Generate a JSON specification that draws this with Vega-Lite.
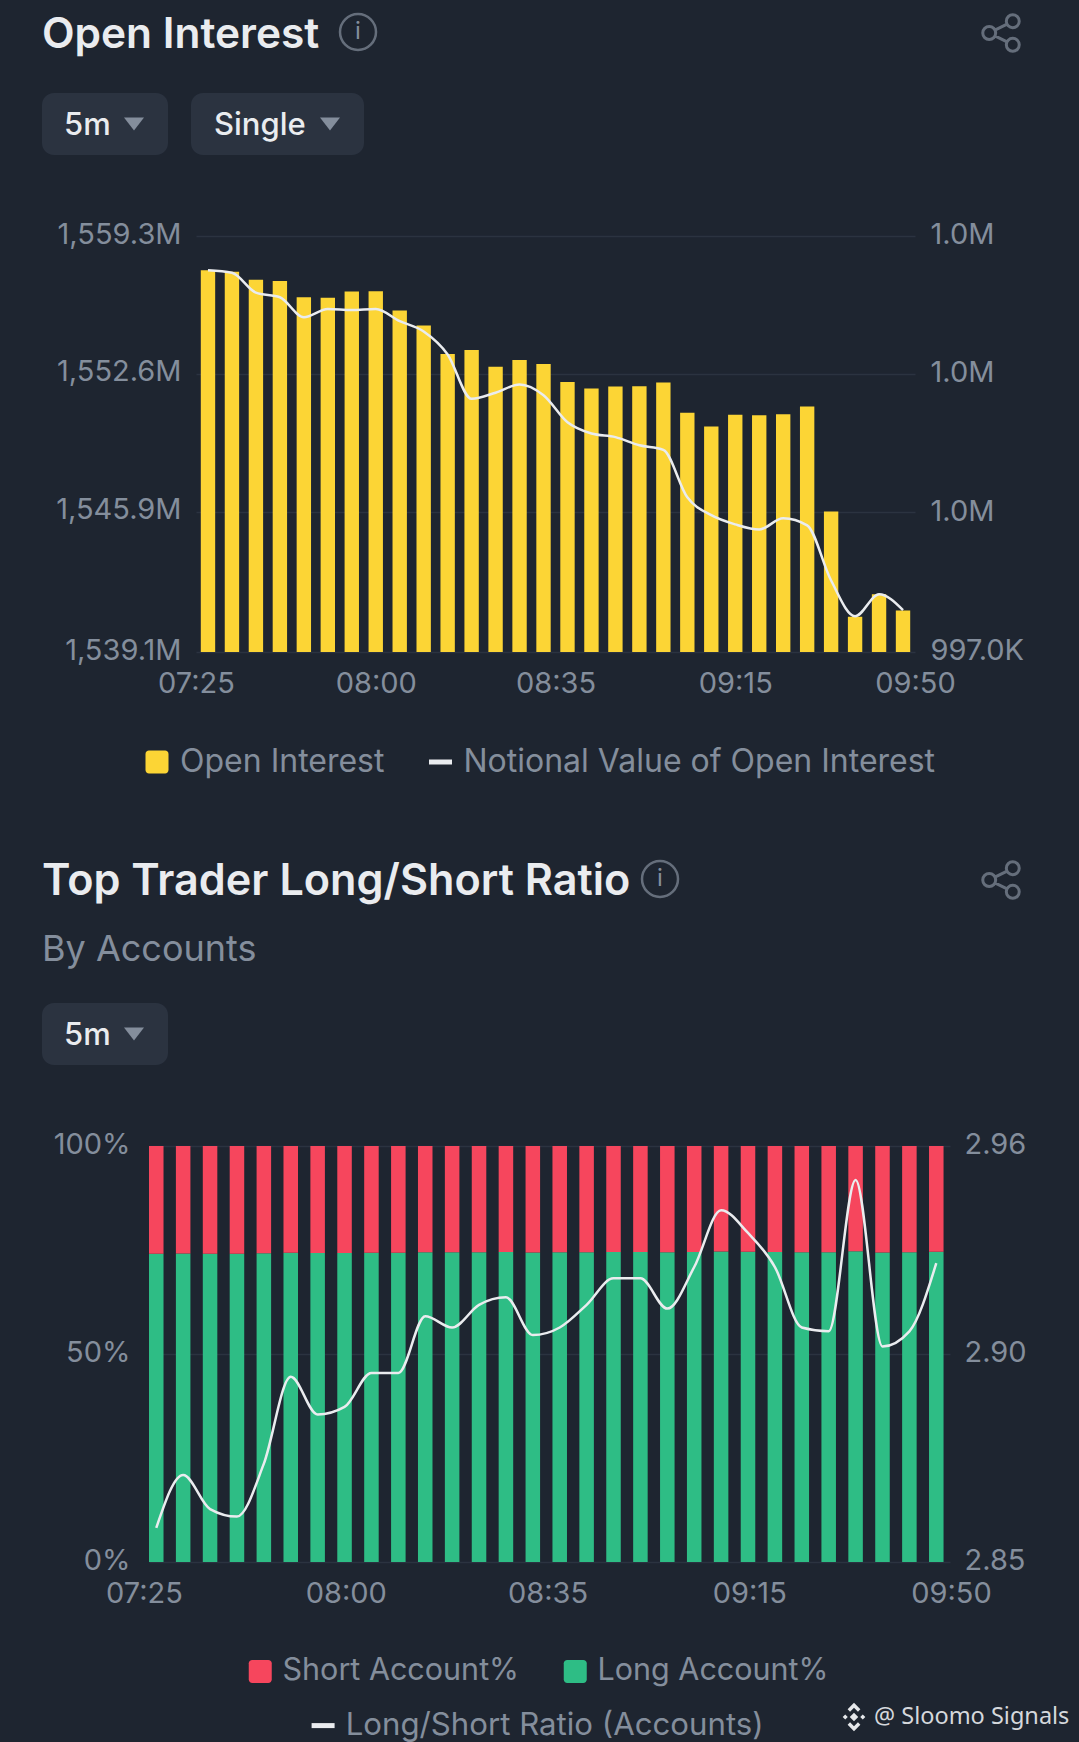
{"$schema":"https://vega.github.io/schema/vega-lite/v6.json","background":"#1E2530","autosize":{"type":"none"},"padding":{"left":149,"top":236,"right":930,"bottom":1506},"spacing":910,"bounds":"flush","resolve":{"scale":{"color":"independent","stroke":"independent"},"legend":{"color":"independent","stroke":"independent"}},"config":{"view":{"stroke":null},"font":"Inter","axis":{"ticks":false,"domain":false,"labelColor":"#848E9C","labelFontSize":29,"labelFont":"Inter","title":null,"gridColor":"#2B3340","gridWidth":1.5},"legend":{"title":null,"labelColor":"#848E9C","labelFontSize":32,"labelFont":"Inter","labelLimit":0}},"vconcat":[{"spacing":0,"bounds":"flush","resolve":{"scale":{"color":"independent","stroke":"independent"},"legend":{"color":"independent","stroke":"independent"}},"hconcat":[{"width":47,"height":416,"data":{"values":[{}]},"mark":{"type":"rule","opacity":0},"encoding":{}},{"width":719,"height":416,"data":{"values":[{"t":"07:25","oi":1557.64,"notional":1005260},{"t":"07:30","oi":1557.56,"notional":1005205},{"t":"07:35","oi":1557.17,"notional":1004774},{"t":"07:40","oi":1557.12,"notional":1004675},{"t":"07:45","oi":1556.33,"notional":1004244},{"t":"07:50","oi":1556.3,"notional":1004421},{"t":"07:55","oi":1556.6,"notional":1004399},{"t":"08:00","oi":1556.62,"notional":1004421},{"t":"08:05","oi":1555.68,"notional":1004156},{"t":"08:10","oi":1554.96,"notional":1003935},{"t":"08:15","oi":1553.57,"notional":1003438},{"t":"08:20","oi":1553.77,"notional":1002477},{"t":"08:25","oi":1552.95,"notional":1002610},{"t":"08:30","oi":1553.28,"notional":1002787},{"t":"08:35","oi":1553.08,"notional":1002555},{"t":"08:40","oi":1552.21,"notional":1001969},{"t":"08:45","oi":1551.89,"notional":1001726},{"t":"08:50","oi":1551.99,"notional":1001649},{"t":"08:55","oi":1552.01,"notional":1001472},{"t":"09:00","oi":1552.19,"notional":1001373},{"t":"09:05","oi":1550.72,"notional":1000346},{"t":"09:10","oi":1550.05,"notional":999960},{"t":"09:15","oi":1550.62,"notional":999761},{"t":"09:20","oi":1550.6,"notional":999650},{"t":"09:25","oi":1550.65,"notional":999893},{"t":"09:30","oi":1551.02,"notional":999739},{"t":"09:35","oi":1545.92,"notional":998546},{"t":"09:40","oi":1540.81,"notional":997773},{"t":"09:45","oi":1541.9,"notional":998248},{"t":"09:50","oi":1541.11,"notional":997906}]},"resolve":{"scale":{"x":"independent","y":"independent"}},"layer":[{"data":{"values":[{"label":"07:25"},{"label":"08:00"},{"label":"08:35"},{"label":"09:15"},{"label":"09:50"}]},"mark":{"type":"point","opacity":0},"encoding":{"x":{"field":"label","type":"ordinal","scale":{"type":"point","padding":0,"domain":["07:25","08:00","08:35","09:15","09:50"]},"axis":{"labelAngle":0,"labelPadding":17,"grid":false,"labelAlign":"center"}}}},{"mark":{"type":"bar","clip":true},"encoding":{"x":{"field":"t","type":"ordinal","sort":null,"scale":{"type":"band","paddingInner":0.4,"paddingOuter":0.2},"axis":null},"y":{"field":"oi","type":"quantitative","scale":{"domain":[1539.1,1559.3],"zero":false,"nice":false},"axis":{"orient":"left","values":[1539.1,1545.9,1552.6,1559.3],"labelExpr":"format(datum.value,',.1f')+'M'","labelPadding":15,"labelOffset":-2,"grid":true}},"color":{"datum":"Open Interest","scale":{"domain":["Open Interest"],"range":["#FCD535"]},"legend":{"orient":"none","legendX":-55,"legendY":510,"symbolType":"M-0.7,-1 L0.7,-1 A0.3,0.3 0 0 1 1,-0.7 L1,0.7 A0.3,0.3 0 0 1 0.7,1 L-0.7,1 A0.3,0.3 0 0 1 -1,0.7 L-1,-0.7 A0.3,0.3 0 0 1 -0.7,-1 Z","symbolSize":529,"symbolOpacity":1,"labelOffset":7}}}},{"mark":{"type":"line","interpolate":"monotone","strokeWidth":2.5},"encoding":{"x":{"field":"t","type":"ordinal","sort":null,"scale":{"type":"band","paddingInner":0.4,"paddingOuter":0.2},"axis":null},"y":{"field":"notional","type":"quantitative","scale":{"domain":[997000,1006000],"zero":false,"nice":false},"axis":{"orient":"right","values":[997000,1000000,1003000,1006000],"labelExpr":"datum.value<1000000?format(datum.value/1000,'.1f')+'K':format(datum.value/1000000,'.1f')+'M'","labelPadding":15,"labelOffset":-2,"grid":false}},"stroke":{"datum":"Notional Value of Open Interest","scale":{"domain":["Notional Value of Open Interest"],"range":["#EAECEF"]},"legend":{"orient":"none","legendX":228.5,"legendY":510,"symbolSize":529,"symbolStrokeWidth":5,"labelOffset":7}}}},{"data":{"values":[{"label":"Open Interest"}]},"mark":{"type":"text","align":"left","baseline":"middle","fontSize":42.4,"fontWeight":600,"color":"#EAECEF"},"encoding":{"text":{"field":"label"},"x":{"value":-154},"y":{"value":-201}}},{"data":{"values":[{"label":"info"}]},"mark":{"type":"point","shape":"circle","filled":false,"stroke":"#848E9C","strokeWidth":2.5,"size":1296},"encoding":{"x":{"value":162},"y":{"value":-204}}},{"data":{"values":[{"label":"i"}]},"mark":{"type":"text","align":"center","baseline":"middle","fontSize":24,"color":"#848E9C"},"encoding":{"text":{"field":"label"},"x":{"value":162},"y":{"value":-204}}},{"data":{"values":[{"label":"share"}]},"mark":{"type":"point","shape":"M.28,-.62 a.34,.34 0 1,0 .68,0 a.34,.34 0 1,0 -.68,0 M-.96,0 a.34,.34 0 1,0 .68,0 a.34,.34 0 1,0 -.68,0 M.28,.62 a.34,.34 0 1,0 .68,0 a.34,.34 0 1,0 -.68,0 M-.32,-.15 L.32,-.47 M-.32,.15 L.32,.47","filled":false,"stroke":"#848E9C","strokeWidth":3,"size":1444},"encoding":{"x":{"value":805},"y":{"value":-203}}},{"data":{"values":[{"label":"5m chip"}]},"mark":{"type":"rect","fill":"#2B3340","cornerRadius":12},"encoding":{"x":{"value":-154},"x2":{"value":-28},"y":{"value":-143},"y2":{"value":-81}}},{"data":{"values":[{"label":"5m"}]},"mark":{"type":"text","align":"left","baseline":"middle","fontSize":31,"fontWeight":500,"color":"#EAECEF"},"encoding":{"text":{"field":"label"},"x":{"value":-132},"y":{"value":-110}}},{"data":{"values":[{"label":"menu"}]},"mark":{"type":"point","shape":"M-1,-.65 L1,-.65 L0,.65 Z","filled":true,"fill":"#848E9C","stroke":null,"size":400,"opacity":1},"encoding":{"x":{"value":-62},"y":{"value":-112}}},{"data":{"values":[{"label":"Single chip"}]},"mark":{"type":"rect","fill":"#2B3340","cornerRadius":12},"encoding":{"x":{"value":-5},"x2":{"value":168},"y":{"value":-143},"y2":{"value":-81}}},{"data":{"values":[{"label":"Single"}]},"mark":{"type":"text","align":"left","baseline":"middle","fontSize":31,"fontWeight":500,"color":"#EAECEF"},"encoding":{"text":{"field":"label"},"x":{"value":18},"y":{"value":-110}}},{"data":{"values":[{"label":"menu"}]},"mark":{"type":"point","shape":"M-1,-.65 L1,-.65 L0,.65 Z","filled":true,"fill":"#848E9C","stroke":null,"size":400,"opacity":1},"encoding":{"x":{"value":134},"y":{"value":-112}}}]}]},{"width":801,"height":416,"data":{"values":[{"t":"07:25","Long Account%":74.09,"Short Account%":25.91,"ratio":2.859},{"t":"07:30","Long Account%":74.18,"Short Account%":25.82,"ratio":2.873},{"t":"07:35","Long Account%":74.12,"Short Account%":25.88,"ratio":2.864},{"t":"07:40","Long Account%":74.11,"Short Account%":25.89,"ratio":2.862},{"t":"07:45","Long Account%":74.2,"Short Account%":25.8,"ratio":2.876},{"t":"07:50","Long Account%":74.35,"Short Account%":25.65,"ratio":2.899},{"t":"07:55","Long Account%":74.29,"Short Account%":25.71,"ratio":2.889},{"t":"08:00","Long Account%":74.3,"Short Account%":25.7,"ratio":2.891},{"t":"08:05","Long Account%":74.36,"Short Account%":25.64,"ratio":2.9},{"t":"08:10","Long Account%":74.36,"Short Account%":25.64,"ratio":2.9},{"t":"08:15","Long Account%":74.46,"Short Account%":25.54,"ratio":2.915},{"t":"08:20","Long Account%":74.44,"Short Account%":25.56,"ratio":2.912},{"t":"08:25","Long Account%":74.48,"Short Account%":25.52,"ratio":2.918},{"t":"08:30","Long Account%":74.49,"Short Account%":25.51,"ratio":2.92},{"t":"08:35","Long Account%":74.42,"Short Account%":25.58,"ratio":2.91},{"t":"08:40","Long Account%":74.44,"Short Account%":25.56,"ratio":2.912},{"t":"08:45","Long Account%":74.48,"Short Account%":25.52,"ratio":2.918},{"t":"08:50","Long Account%":74.52,"Short Account%":25.48,"ratio":2.925},{"t":"08:55","Long Account%":74.52,"Short Account%":25.48,"ratio":2.925},{"t":"09:00","Long Account%":74.47,"Short Account%":25.53,"ratio":2.917},{"t":"09:05","Long Account%":74.54,"Short Account%":25.46,"ratio":2.928},{"t":"09:10","Long Account%":74.64,"Short Account%":25.36,"ratio":2.943},{"t":"09:15","Long Account%":74.6,"Short Account%":25.4,"ratio":2.937},{"t":"09:20","Long Account%":74.54,"Short Account%":25.46,"ratio":2.928},{"t":"09:25","Long Account%":74.44,"Short Account%":25.56,"ratio":2.912},{"t":"09:30","Long Account%":74.43,"Short Account%":25.57,"ratio":2.911},{"t":"09:35","Long Account%":74.69,"Short Account%":25.31,"ratio":2.951},{"t":"09:40","Long Account%":74.4,"Short Account%":25.6,"ratio":2.907},{"t":"09:45","Long Account%":74.43,"Short Account%":25.57,"ratio":2.911},{"t":"09:50","Long Account%":74.55,"Short Account%":25.45,"ratio":2.929}]},"resolve":{"scale":{"x":"independent","y":"independent"}},"layer":[{"data":{"values":[{"label":"07:25"},{"label":"08:00"},{"label":"08:35"},{"label":"09:15"},{"label":"09:50"}]},"mark":{"type":"point","opacity":0},"encoding":{"x":{"field":"label","type":"ordinal","scale":{"type":"point","padding":0,"range":[-5,802],"domain":["07:25","08:00","08:35","09:15","09:50"]},"axis":{"labelAngle":0,"labelPadding":17,"grid":false,"labelAlign":"center"}}}},{"transform":[{"fold":["Long Account%","Short Account%"],"as":["series","share"]}],"mark":{"type":"bar"},"encoding":{"x":{"field":"t","type":"ordinal","sort":null,"scale":{"type":"band","paddingInner":0.46,"paddingOuter":0.12,"align":0},"axis":null},"y":{"field":"share","type":"quantitative","stack":"zero","scale":{"domain":[0,100],"nice":false},"axis":{"orient":"left","values":[0,50,100],"labelExpr":"datum.value+'%'","labelPadding":19,"labelOffset":-2,"grid":true}},"order":{"field":"series","type":"nominal","sort":"ascending"},"color":{"field":"series","type":"nominal","scale":{"domain":["Short Account%","Long Account%"],"range":["#F6465D","#2EBD85"]},"legend":{"orient":"none","legendX":96,"legendY":510,"direction":"horizontal","columnPadding":40,"labelFontSize":30.5,"symbolType":"M-0.7,-1 L0.7,-1 A0.3,0.3 0 0 1 1,-0.7 L1,0.7 A0.3,0.3 0 0 1 0.7,1 L-0.7,1 A0.3,0.3 0 0 1 -1,0.7 L-1,-0.7 A0.3,0.3 0 0 1 -0.7,-1 Z","symbolSize":529,"symbolOpacity":1,"labelOffset":7}}}},{"mark":{"type":"line","interpolate":"monotone","strokeWidth":2.5},"encoding":{"x":{"field":"t","type":"ordinal","sort":null,"scale":{"type":"band","paddingInner":0.46,"paddingOuter":0.12,"align":0},"axis":null},"y":{"field":"ratio","type":"quantitative","scale":{"domain":[2.85,2.96],"zero":false,"nice":false},"axis":{"orient":"right","values":[2.85,2.905,2.96],"format":".2f","labelPadding":14,"labelOffset":-2,"grid":false}},"stroke":{"datum":"Long/Short Ratio (Accounts)","scale":{"domain":["Long/Short Ratio (Accounts)"],"range":["#EAECEF"]},"legend":{"orient":"none","legendX":158.5,"legendY":564,"labelFontSize":31.2,"symbolSize":529,"symbolStrokeWidth":5,"labelOffset":7}}}},{"data":{"values":[{"label":"Top Trader Long/Short Ratio"}]},"mark":{"type":"text","align":"left","baseline":"middle","fontSize":43.2,"fontWeight":600,"color":"#EAECEF"},"encoding":{"text":{"field":"label"},"x":{"value":-107},"y":{"value":-264}}},{"data":{"values":[{"label":"info"}]},"mark":{"type":"point","shape":"circle","filled":false,"stroke":"#848E9C","strokeWidth":2.5,"size":1296},"encoding":{"x":{"value":511},"y":{"value":-267}}},{"data":{"values":[{"label":"i"}]},"mark":{"type":"text","align":"center","baseline":"middle","fontSize":24,"color":"#848E9C"},"encoding":{"text":{"field":"label"},"x":{"value":511},"y":{"value":-267}}},{"data":{"values":[{"label":"share"}]},"mark":{"type":"point","shape":"M.28,-.62 a.34,.34 0 1,0 .68,0 a.34,.34 0 1,0 -.68,0 M-.96,0 a.34,.34 0 1,0 .68,0 a.34,.34 0 1,0 -.68,0 M.28,.62 a.34,.34 0 1,0 .68,0 a.34,.34 0 1,0 -.68,0 M-.32,-.15 L.32,-.47 M-.32,.15 L.32,.47","filled":false,"stroke":"#848E9C","strokeWidth":3,"size":1444},"encoding":{"x":{"value":852},"y":{"value":-266}}},{"data":{"values":[{"label":"By Accounts"}]},"mark":{"type":"text","align":"left","baseline":"middle","fontSize":36,"color":"#848E9C"},"encoding":{"text":{"field":"label"},"x":{"value":-107},"y":{"value":-196}}},{"data":{"values":[{"label":"5m chip"}]},"mark":{"type":"rect","fill":"#2B3340","cornerRadius":12},"encoding":{"x":{"value":-107},"x2":{"value":19},"y":{"value":-143},"y2":{"value":-81}}},{"data":{"values":[{"label":"5m"}]},"mark":{"type":"text","align":"left","baseline":"middle","fontSize":31,"fontWeight":500,"color":"#EAECEF"},"encoding":{"text":{"field":"label"},"x":{"value":-85},"y":{"value":-110}}},{"data":{"values":[{"label":"menu"}]},"mark":{"type":"point","shape":"M-1,-.65 L1,-.65 L0,.65 Z","filled":true,"fill":"#848E9C","stroke":null,"size":400,"opacity":1},"encoding":{"x":{"value":-15},"y":{"value":-112}}},{"data":{"values":[{"label":"logo"}]},"mark":{"type":"point","shape":"M0,-.3 L.3,0 L0,.3 L-.3,0 Z M0,-1 L.45,-.55 L.28,-.38 L0,-.66 L-.28,-.38 L-.45,-.55 Z M0,1 L.45,.55 L.28,.38 L0,.66 L-.28,.38 L-.45,.55 Z M-.62,-.18 L-.44,0 L-.62,.18 L-.8,0 Z M.62,-.18 L.8,0 L.62,.18 L.44,0 Z","filled":true,"fill":"#E6E8EB","stroke":null,"size":800,"opacity":1},"encoding":{"x":{"value":705},"y":{"value":571}}},{"data":{"values":[{"label":"@ Sloomo Signals"}]},"mark":{"type":"text","align":"left","baseline":"middle","font":"Noto Sans","fontSize":23.5,"color":"#D5D8DC"},"encoding":{"text":{"field":"label"},"x":{"value":725},"y":{"value":571}}}]}]}
